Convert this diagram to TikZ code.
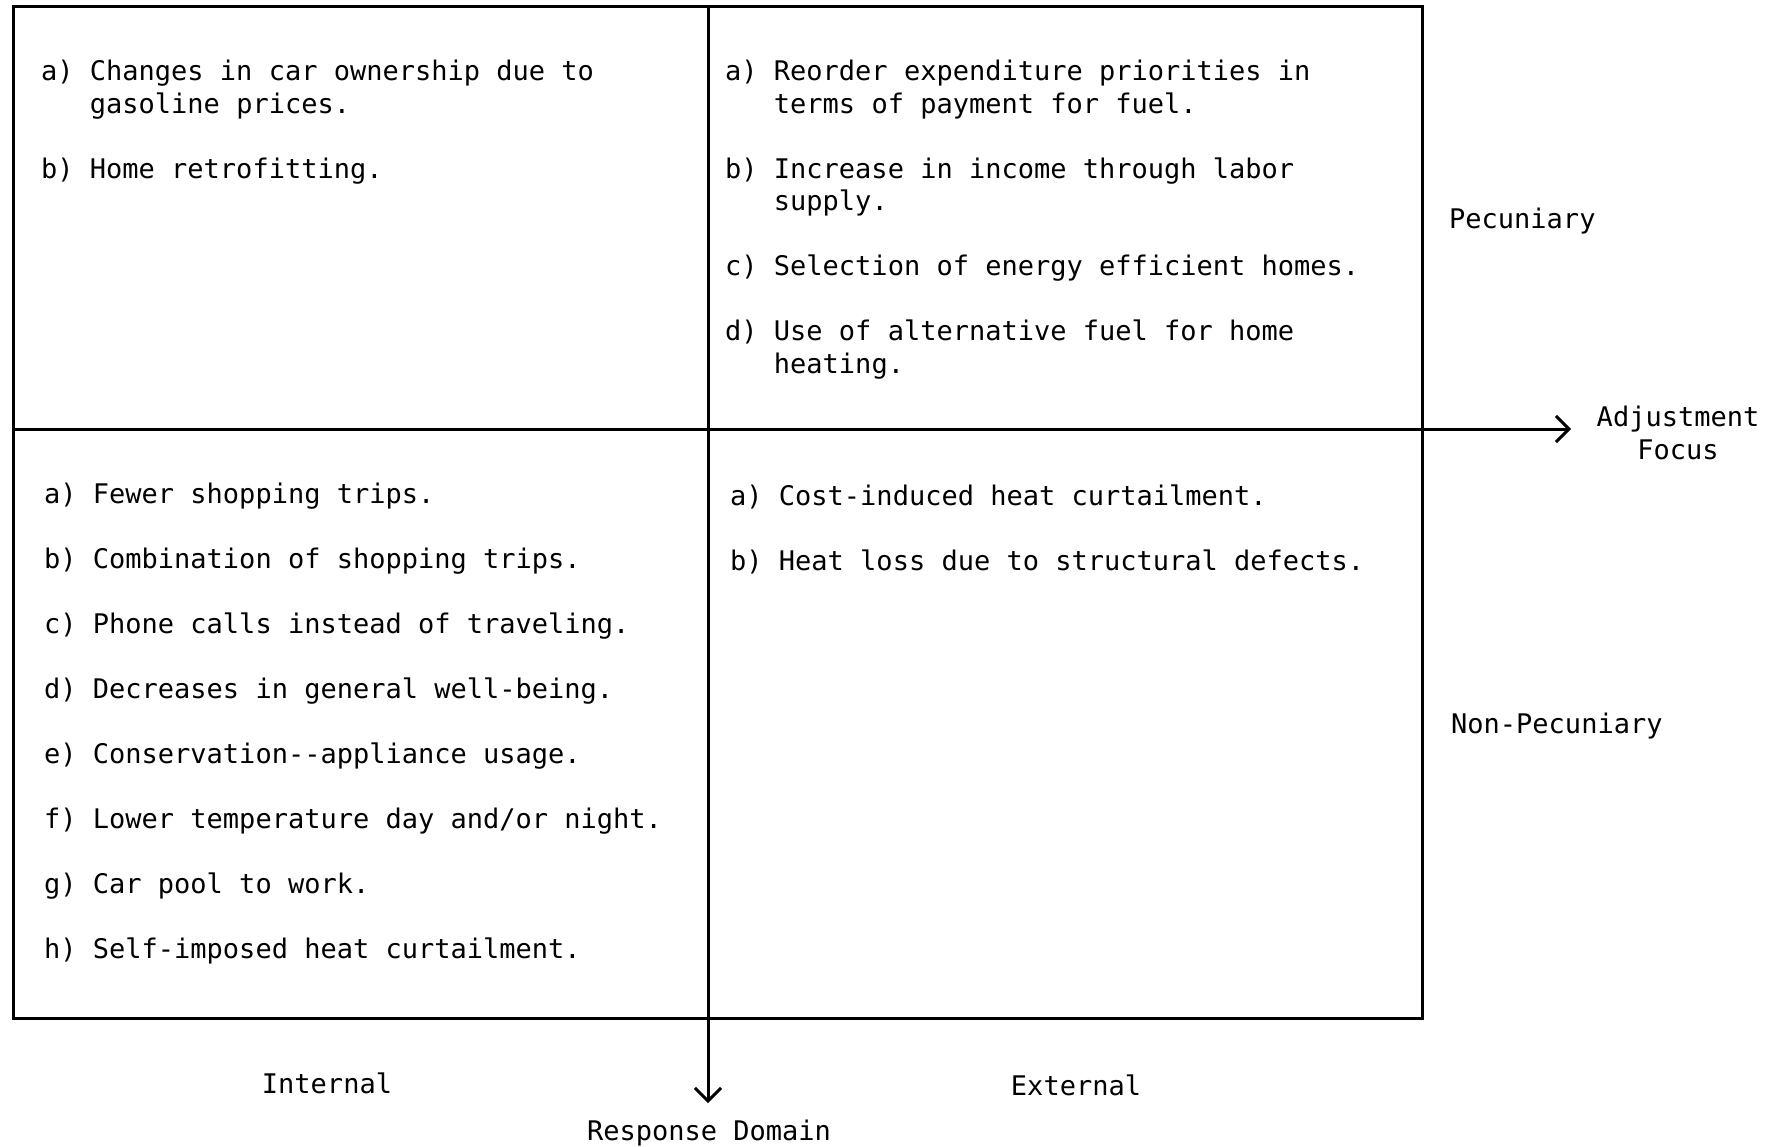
\documentclass[tikz,border=0pt]{standalone}
\usepackage{fontspec}
\setmonofont{DejaVu Sans Mono}
\usetikzlibrary{arrows.meta}

\begin{document}
\begin{tikzpicture}[
x=1pt, y=-1pt,
frame/.style={line width=3pt},
axis/.style={line width=3pt, -{Straight Barb[length=13pt, width=26pt, line width=3pt]}},
fontnode/.style={font=\ttfamily\fontsize{27}{32.5}\selectfont, inner sep=0pt},
cellnode/.style={fontnode, anchor=base west},
labelnode/.style={fontnode, align=center}
]

\useasboundingbox (0,0) rectangle (1779,1147);

%%%% FRAME

\path (13,7)coordinate(TL) (1422,1018)coordinate(BR) (708,7)coordinate(MT) (13,429)coordinate(ML);
\draw[frame] (TL) rectangle (BR);

%%%% AXES

\path (1571,429)coordinate(AF) (708,1103)coordinate(RD);
\draw[axis] (ML)--(AF);
\draw[axis] (MT)--(RD);

%% internal, pecuniary
\path (41,81) node[cellnode](cellIP){\begin{tabular}[t]{@{}l@{\ }l@{}}
a) & Changes in car ownership due to\\
   & gasoline prices.\\[32.5pt]
b) & Home retrofitting.
\end{tabular}};

%% external, pecuniary
\path (725,81) node[cellnode](cellEP){\begin{tabular}[t]{@{}l@{\ }l@{}}
a) & Reorder expenditure priorities in\\
   & terms of payment for fuel.\\[32.5pt]
b) & Increase in income through labor\\
   & supply.\\[32.5pt]
c) & Selection of energy efficient homes.\\[32.5pt]
d) & Use of alternative fuel for home\\
   & heating.
\end{tabular}};

%% internal, non-pecuniary
\path (44,503) node[cellnode](cellIN){\begin{tabular}[t]{@{}l@{\ }l@{}}
a) & Fewer shopping trips.\\[32.5pt]
b) & Combination of shopping trips.\\[32.5pt]
c) & Phone calls instead of traveling.\\[32.5pt]
d) & Decreases in general well-being.\\[32.5pt]
e) & Conservation--appliance usage.\\[32.5pt]
f) & Lower temperature day and/or night.\\[32.5pt]
g) & Car pool to work.\\[32.5pt]
h) & Self-imposed heat curtailment.
\end{tabular}};

%% external, non-pecuniary
\path (730,505) node[cellnode](cellEN){\begin{tabular}[t]{@{}l@{\ }l@{}}
a) & Cost-induced heat curtailment.\\[32.5pt]
b) & Heat loss due to structural defects.
\end{tabular}};

%%%% AXIS LABELS

\path (1449,221) node[fontnode, anchor=west](pecuniary){Pecuniary};
\path (1451,726) node[fontnode, anchor=west](nonpecuniary){Non-Pecuniary};
\path (1678,433) node[labelnode](adjfocus){Adjustment\\Focus};
\path (327,1083) node[labelnode](internal){Internal};
\path (1076,1085) node[labelnode](external){External};
\path (709,1133) node[labelnode](respdomain){Response Domain};

\end{tikzpicture}
\end{document}
